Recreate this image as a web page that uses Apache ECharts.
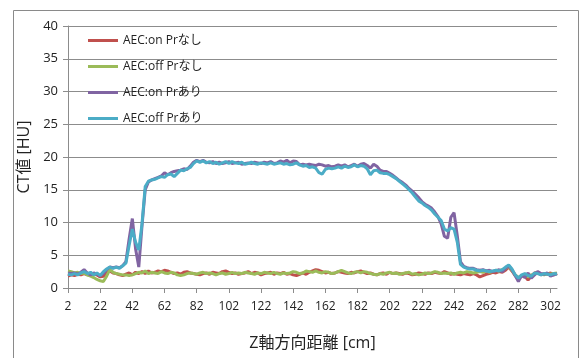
<!DOCTYPE html>
<html>
<head>
<meta charset="utf-8">
<script src="https://cdn.jsdelivr.net/npm/echarts@6/dist/echarts.min.js"></script>
<style>
  html, body { margin: 0; padding: 0; background: #fff; }
  #chart { width: 585px; height: 358px; }
</style>
</head>
<body>
<div id="chart"></div>
<script>
// Z position along the table [cm], every 2 cm from 2 to 306
const positions = [];
for (let z = 2; z <= 306; z += 2) positions.push(String(z));

const seriesNames = ['AEC:on Prなし', 'AEC:off Prなし', 'AEC:on Prあり', 'AEC:off Prあり'];

// CT values [HU]
const aecOnNoPr = [
  1.8,2.0,1.9,2.1,2.0,2.2,2.0,1.9,2.1,2.0,
  1.7,1.8,2.4,2.6,2.3,2.2,2.0,1.9,2.1,2.3,
  2.0,2.4,2.2,2.5,2.2,2.6,2.3,2.4,2.6,2.5,
  2.7,2.6,2.4,2.2,2.3,2.1,2.4,2.5,2.3,2.2,
  2.1,2.0,2.2,2.3,2.1,2.4,2.3,2.2,2.5,2.6,
  2.4,2.2,2.3,2.1,2.2,2.3,2.5,2.2,2.4,2.3,
  2.0,2.2,2.3,2.4,2.1,2.3,2.2,2.4,2.1,2.2,
  2.0,1.9,2.1,2.3,2.1,2.4,2.6,2.8,2.7,2.5,
  2.3,2.4,2.2,2.3,2.5,2.4,2.3,2.2,2.4,2.3,
  2.5,2.6,2.4,2.2,2.3,2.1,2.0,2.2,2.3,2.1,
  2.4,2.2,2.3,2.2,2.1,2.3,2.2,2.0,2.1,2.3,
  2.2,2.1,2.3,2.2,2.4,2.3,2.2,2.5,2.3,2.1,
  2.2,2.1,2.0,2.2,2.1,2.0,2.2,2.0,1.7,1.9,
  2.1,2.2,2.4,2.3,2.5,2.4,2.7,3.2,2.6,1.9,
  1.3,1.9,1.8,1.2,1.8,2.3,2.4,2.0,2.2,2.1,
  2.3,2.0,2.2
];
const aecOffNoPr = [
  2.6,2.5,2.3,2.4,2.2,2.3,2.0,1.8,1.6,1.3,
  1.1,1.0,1.8,2.8,2.4,2.2,2.1,2.0,2.0,1.9,
  2.0,2.2,2.4,2.3,2.6,2.2,2.4,2.3,2.2,2.5,
  2.3,2.2,2.4,2.3,2.0,1.9,2.0,2.2,2.3,2.2,
  2.1,2.3,2.4,2.2,2.3,2.2,2.0,2.2,2.3,2.1,
  2.2,2.4,2.2,2.3,2.2,2.4,2.3,2.2,2.1,2.3,
  2.2,2.4,2.3,2.2,2.4,2.2,2.1,2.3,2.2,2.3,
  2.5,2.4,2.2,2.3,2.6,2.5,2.4,2.6,2.4,2.3,
  2.5,2.4,2.2,2.3,2.5,2.7,2.5,2.3,2.2,2.4,
  2.5,2.3,2.5,2.4,2.2,2.1,2.0,2.2,2.1,2.3,
  2.4,2.2,2.3,2.1,2.2,2.3,2.4,2.1,2.2,2.0,
  2.1,2.3,2.2,2.3,2.5,2.4,2.2,2.3,2.2,2.3,
  2.1,2.3,2.4,2.3,2.5,2.4,2.3,2.4,2.5,2.4,
  2.6,2.4,2.5,2.7,2.6,2.8,3.0,3.3,2.7,2.0,
  1.6,1.9,2.1,1.7,2.0,2.1,2.3,2.1,2.0,2.2,
  2.1,2.2,2.3
];
const aecOnPr = [
  2.3,2.2,2.3,2.1,2.4,2.8,2.3,2.0,2.3,2.1,
  1.9,2.2,2.8,3.2,3.1,3.2,3.1,3.4,4.0,7.5,
  10.6,6.0,3.2,9.5,15.0,16.2,16.5,16.7,16.9,17.1,
  17.6,17.3,17.6,17.8,17.9,18.0,18.2,18.1,18.6,19.2,
  19.5,19.3,19.5,19.2,19.1,19.3,19.0,19.2,19.0,19.1,
  19.3,19.0,19.1,19.2,18.9,19.0,19.1,19.0,19.2,19.1,
  19.0,19.2,19.1,19.3,19.0,19.1,19.4,19.2,19.5,19.1,
  19.4,19.3,18.8,18.9,18.8,18.9,18.8,18.7,18.9,18.8,
  18.6,18.7,18.5,18.6,18.8,18.6,18.8,18.5,18.7,18.9,
  18.6,18.9,19.0,18.7,18.3,18.9,18.6,18.0,17.8,17.8,
  17.5,17.2,16.8,16.4,16.1,15.7,15.2,14.8,14.3,13.8,
  13.2,12.8,12.5,12.2,11.6,10.9,9.8,7.9,7.6,10.8,
  11.5,8.0,4.0,3.3,3.1,3.0,3.0,2.8,2.7,2.8,
  2.6,2.7,2.5,2.6,2.8,2.5,3.0,3.4,2.8,1.9,
  1.0,1.9,1.6,2.3,1.5,2.0,2.5,2.2,2.1,2.3,
  1.8,2.0,2.2
];
const aecOffPr = [
  2.1,2.0,2.2,2.0,2.3,2.5,2.2,2.4,2.0,2.3,
  1.9,2.5,2.9,3.2,3.0,3.2,3.0,3.4,3.8,6.5,
  9.0,7.0,5.8,9.8,15.5,16.3,16.5,16.6,16.8,17.0,
  16.9,17.3,17.4,17.0,17.5,18.0,17.9,18.2,18.4,19.0,
  19.4,19.2,19.4,19.1,19.3,19.0,19.2,18.9,19.1,19.3,
  19.0,19.3,19.1,19.0,19.2,18.9,19.0,19.2,19.0,18.9,
  19.1,19.0,18.9,19.1,18.9,19.0,19.1,18.9,19.0,18.8,
  18.9,19.1,18.8,18.6,18.7,18.4,18.5,18.3,17.6,17.4,
  18.1,18.3,18.2,18.3,18.5,18.3,18.6,18.4,18.5,18.8,
  18.5,18.7,18.6,18.2,17.3,17.9,18.0,17.6,17.5,17.5,
  17.3,17.0,16.7,16.3,15.9,15.5,15.0,14.5,13.9,13.3,
  13.0,12.6,12.3,11.9,11.3,10.8,10.3,9.0,8.7,9.2,
  9.0,7.0,3.6,3.2,3.0,2.9,2.9,2.7,2.6,2.7,
  2.6,2.5,2.6,2.7,2.6,2.8,3.2,3.5,2.9,2.0,
  1.5,2.0,2.2,1.9,1.8,2.3,2.2,2.0,2.2,2.1,
  2.0,2.2,2.1
];

const palette = ['#C0504D', '#9BBB59', '#8064A2', '#4BACC6'];
const values = [aecOnNoPr, aecOffNoPr, aecOnPr, aecOffPr];

const font = "'Open Sans', 'Noto Sans CJK JP', sans-serif";
const gridGray = '#8c8c8c';

const chart = echarts.init(document.getElementById('chart'), null, { renderer: 'canvas' });
chart.setOption({
  backgroundColor: '#ffffff',
  animation: false,
  textStyle: { fontFamily: font, color: '#333' },
  graphic: [{
    type: 'rect',
    shape: { x: 13.5, y: 10.5, width: 565, height: 360 },
    style: { fill: 'none', stroke: '#8a8a8a', lineWidth: 1 },
    silent: true,
    z: 0
  }],
  grid: { left: 68, right: 28, top: 26, bottom: 70, containLabel: false },
  legend: {
    orient: 'vertical',
    left: 88,
    top: 32,
    padding: 0,
    icon: 'rect',
    itemWidth: 30,
    itemHeight: 3,
    itemGap: 9,
    textStyle: { fontFamily: font, fontSize: 12, color: '#222', lineHeight: 17 },
    data: seriesNames
  },
  xAxis: {
    type: 'category',
    data: positions,
    boundaryGap: false,
    name: 'Z軸方向距離 [cm]',
    nameLocation: 'middle',
    nameGap: 47,
    nameTextStyle: { fontFamily: font, fontSize: 16, color: '#222' },
    axisLine: { lineStyle: { color: gridGray, width: 1 } },
    axisTick: { show: true, interval: 9, length: 5, lineStyle: { color: gridGray } },
    axisLabel: { interval: 9, fontSize: 12, color: '#222', margin: 13 },
    splitLine: { show: false }
  },
  yAxis: {
    type: 'value',
    min: 0,
    max: 40,
    interval: 5,
    name: 'CT値 [HU]',
    nameLocation: 'middle',
    nameGap: 26,
    nameTextStyle: { fontFamily: font, fontSize: 16, color: '#222' },
    axisLine: { show: true, lineStyle: { color: gridGray, width: 1 } },
    axisTick: { show: true, length: 5, lineStyle: { color: gridGray } },
    axisLabel: { fontSize: 13, color: '#222', margin: 10 },
    splitLine: { show: true, lineStyle: { color: gridGray, width: 1 } }
  },
  series: seriesNames.map((name, i) => ({
    name: name,
    type: 'line',
    data: values[i],
    symbol: 'none',
    color: palette[i],
    lineStyle: { width: 3, color: palette[i] },
    z: 2 + i
  }))
});
</script>
</body>
</html>
